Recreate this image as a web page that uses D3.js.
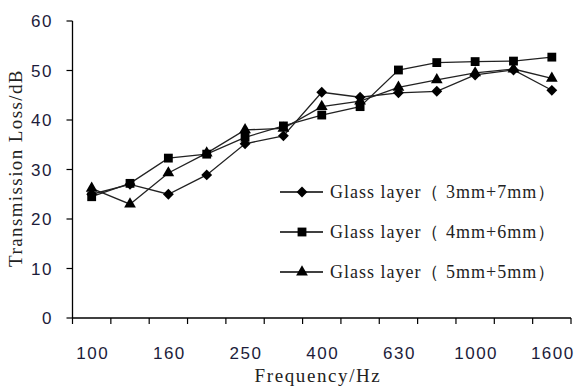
<!DOCTYPE html>
<html>
<head>
<meta charset="utf-8">
<script src="https://cdn.jsdelivr.net/npm/d3@7"></script>
<style>
  body { margin: 0; background: #fff; }
  svg { display: block; }
</style>
</head>
<body>
<div id="chartArea"></div>
<script>
var freqs = ['100', '125', '160', '200', '250', '315', '400', '500', '630', '800', '1000', '1250', '1600'];
var shownTicks = ['100', '160', '250', '400', '630', '1000', '1600'];
var yTicks = [0, 10, 20, 30, 40, 50, 60];

var series37 = [25, 27, 25, 28.9, 35.2, 36.8, 45.6, 44.6, 45.5, 45.8, 49.1, 50.1, 46];
var series46 = [24.5, 27.2, 32.3, 33.1, 36.5, 38.8, 41, 42.7, 50.1, 51.6, 51.8, 51.9, 52.7];
var series55 = [26.2, 23, 29.3, 33.3, 38, 38.3, 42.7, 43.8, 46.6, 48.1, 49.5, 50.3, 48.4];

var seriesNames = ['Glass layer（ 3mm+7mm）', 'Glass layer（ 4mm+6mm）', 'Glass layer（ 5mm+5mm）'];
var seriesSymbols = [d3.symbolDiamond2, d3.symbolSquare, d3.symbolTriangle];
var seriesSizes = [75, 78, 60];

var w = 577, h = 386;
var plotLeft = 72.5, plotRight = 571, plotTop = 21, plotBottom = 318;
var sansFont = 'Liberation Sans, Arial, sans-serif';
var serifFont = 'Liberation Serif, Times New Roman, serif';

var svg = d3.select('#chartArea').append('svg')
    .attr('width', w)
    .attr('height', h);

var xScale = d3.scaleBand()
    .domain(freqs)
    .range([plotLeft, plotRight]);

var yScale = d3.scaleLinear()
    .domain([0, 60])
    .range([plotBottom, plotTop]);

// y axis
svg.append('line')
    .attr('x1', plotLeft).attr('x2', plotLeft)
    .attr('y1', yScale(60)).attr('y2', yScale(0))
    .attr('stroke', '#000').attr('stroke-width', 1.3);

svg.selectAll('.ytick')
    .data(yTicks)
    .enter()
    .append('line')
    .attr('x1', plotLeft - 6).attr('x2', plotLeft)
    .attr('y1', function (d) { return yScale(d); })
    .attr('y2', function (d) { return yScale(d); })
    .attr('stroke', '#000').attr('stroke-width', 1.2);

svg.selectAll('.ylab')
    .data(yTicks)
    .enter()
    .append('text')
    .attr('x', 53)
    .attr('y', function (d) { return yScale(d); })
    .attr('dy', '0.36em')
    .attr('text-anchor', 'end')
    .attr('font-family', sansFont)
    .attr('font-size', 17)
    .attr('letter-spacing', 1.5)
    .attr('fill', '#1c1c3a')
    .text(function (d) { return d; });

// x axis
svg.append('line')
    .attr('x1', plotLeft).attr('x2', plotRight)
    .attr('y1', yScale(0)).attr('y2', yScale(0))
    .attr('stroke', '#000').attr('stroke-width', 1.3);

var xTickPos = freqs.map(function (f) { return xScale(f); }).concat([plotRight]);
svg.selectAll('.xtick')
    .data(xTickPos)
    .enter()
    .append('line')
    .attr('x1', function (d) { return d; })
    .attr('x2', function (d) { return d; })
    .attr('y1', yScale(0)).attr('y2', yScale(0) + 6)
    .attr('stroke', '#000').attr('stroke-width', 1.2);

svg.selectAll('.xlab')
    .data(shownTicks)
    .enter()
    .append('text')
    .attr('x', function (d) { return xScale(d) + xScale.bandwidth() / 2 + 1; })
    .attr('y', 359)
    .attr('text-anchor', 'middle')
    .attr('font-family', sansFont)
    .attr('font-size', 17)
    .attr('letter-spacing', 1.5)
    .attr('fill', '#1c1c3a')
    .text(function (d) { return d; });

// axis titles
svg.append('text')
    .attr('x', 318).attr('y', 382)
    .attr('text-anchor', 'middle')
    .attr('font-family', serifFont)
    .attr('font-size', 19)
    .attr('letter-spacing', 1.6)
    .attr('fill', '#222')
    .text('Frequency/Hz');

svg.append('text')
    .attr('transform', 'translate(22,168) rotate(-90)')
    .attr('text-anchor', 'middle')
    .attr('font-family', serifFont)
    .attr('font-size', 19)
    .attr('letter-spacing', 1.4)
    .attr('fill', '#222')
    .text('Transmission Loss/dB');

// series
var allSeries = [series37, series46, series55];
var line = d3.line()
    .x(function (d, i) { return xScale(freqs[i]) + xScale.bandwidth() / 2; })
    .y(function (d) { return yScale(d); });

allSeries.forEach(function (vals) {
    svg.append('path')
        .attr('d', line(vals))
        .attr('fill', 'none')
        .attr('stroke', '#222')
        .attr('stroke-width', 1.3);
});

allSeries.forEach(function (vals, k) {
    svg.selectAll('.m' + k)
        .data(vals)
        .enter()
        .append('path')
        .attr('d', d3.symbol().type(seriesSymbols[k]).size(seriesSizes[k]))
        .attr('transform', function (d, i) {
            return 'translate(' + (xScale(freqs[i]) + xScale.bandwidth() / 2) + ',' + yScale(d) + ')';
        })
        .attr('fill', '#000');
});

// legend
var legend = svg.selectAll('.legend')
    .data(seriesNames)
    .enter()
    .append('g')
    .attr('transform', function (d, i) { return 'translate(280,' + (192 + i * 40) + ')'; });

legend.append('line')
    .attr('x1', 0).attr('x2', 43)
    .attr('stroke', '#000').attr('stroke-width', 1.3);

legend.append('path')
    .attr('d', function (d, i) { return d3.symbol().type(seriesSymbols[i]).size(seriesSizes[i])(); })
    .attr('transform', 'translate(22,0)')
    .attr('fill', '#000');

legend.append('text')
    .attr('x', 50)
    .attr('dy', '0.35em')
    .attr('font-family', serifFont)
    .attr('font-size', 18)
    .attr('letter-spacing', 1)
    .attr('fill', '#222')
    .text(function (d) { return d; });
</script>
</body>
</html>
